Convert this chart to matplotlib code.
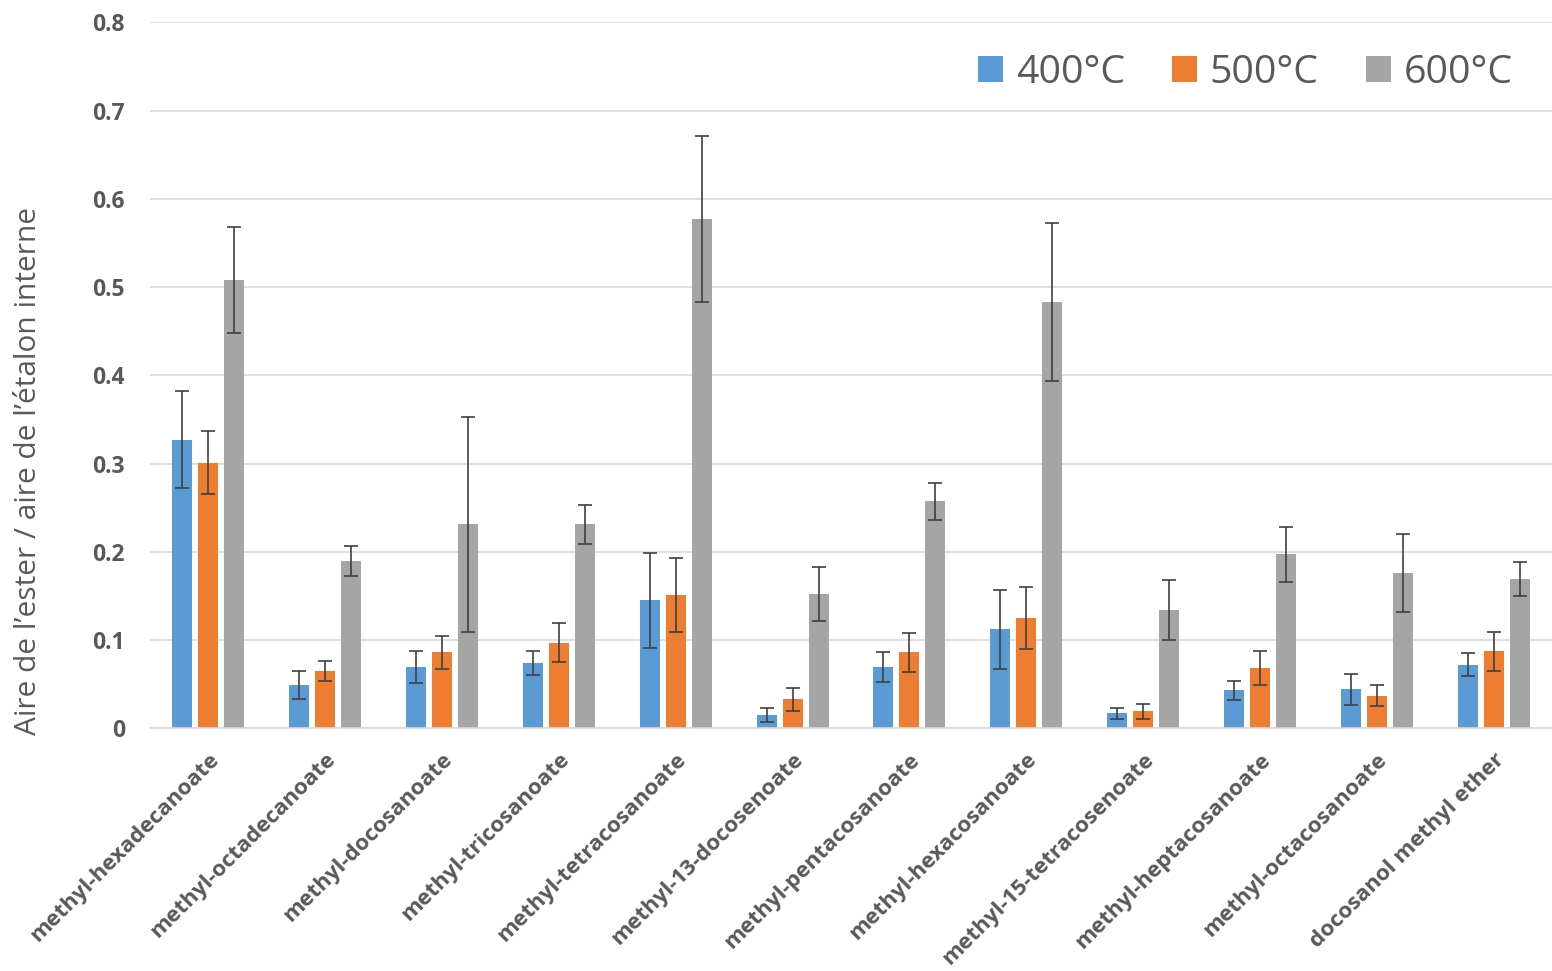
import matplotlib
matplotlib.use("Agg")
import matplotlib.pyplot as plt
import numpy as np

plt.rcParams['font.family'] = ['Open Sans', 'DejaVu Sans']

# données
composes = ["methyl-hexadecanoate", "methyl-octadecanoate", "methyl-docosanoate",
            "methyl-tricosanoate", "methyl-tetracosanoate", "methyl-13-docosenoate",
            "methyl-pentacosanoate", "methyl-hexacosanoate", "methyl-15-tetracosenoate",
            "methyl-heptacosanoate", "methyl-octacosanoate", "docosanol methyl ether"]
temperatures = ["400°C", "500°C", "600°C"]

val_400 = [0.327, 0.049, 0.069, 0.074, 0.145, 0.015, 0.069, 0.112, 0.017, 0.043, 0.044, 0.072]
err_400 = [0.055, 0.016, 0.018, 0.014, 0.054, 0.008, 0.017, 0.045, 0.006, 0.011, 0.018, 0.013]
val_500 = [0.301, 0.065, 0.086, 0.097, 0.151, 0.033, 0.086, 0.125, 0.019, 0.068, 0.037, 0.087]
err_500 = [0.036, 0.011, 0.019, 0.022, 0.042, 0.013, 0.022, 0.035, 0.008, 0.019, 0.012, 0.022]
val_600 = [0.508, 0.190, 0.231, 0.231, 0.577, 0.152, 0.257, 0.483, 0.134, 0.197, 0.176, 0.169]
err_600 = [0.060, 0.017, 0.122, 0.022, 0.094, 0.031, 0.021, 0.090, 0.034, 0.031, 0.044, 0.019]

couleurs = ['#5B9BD5', '#ED7D31', '#A5A5A5']
texte = '#595959'

fig = plt.figure(figsize=(15.52, 9.71), dpi=100)
ax = fig.add_axes([0.0966, 0.250, 0.9034, 0.727])

x = np.arange(len(composes))
largeur = 0.171
pas = 0.2225

series = [(val_400, err_400), (val_500, err_500), (val_600, err_600)]
for i, (vals, errs) in enumerate(series):
    ax.bar(x + (i - 1) * pas, vals, largeur, color=couleurs[i],
           label=temperatures[i], zorder=2,
           yerr=errs, error_kw=dict(ecolor='#404040', elinewidth=1.2,
                                    capsize=5, capthick=1.2, zorder=3))

ax.set_xlim(-0.5, len(composes) - 0.5)
ax.set_ylim(0, 0.8)
ax.set_yticks(np.arange(0, 0.81, 0.1))
ax.set_yticklabels(['0'] + [f"{v:.1f}" for v in np.arange(0.1, 0.81, 0.1)])
ax.grid(axis='y', color='#D9D9D9', linewidth=1.2, zorder=0)
ax.set_axisbelow(True)

for s in ['top', 'right', 'left']:
    ax.spines[s].set_visible(False)
ax.spines['bottom'].set_color('#D9D9D9')
ax.spines['bottom'].set_linewidth(1.2)
ax.tick_params(axis='both', length=0, colors=texte)
ax.tick_params(axis='y', pad=18)

for lab in ax.get_yticklabels():
    lab.set_fontsize(16.5)
    lab.set_fontweight('bold')

ax.set_xticks(x)
ax.set_xticklabels(composes, rotation=45, ha='right', rotation_mode='anchor',
                   fontsize=16.1, fontweight='bold', color=texte)
ax.tick_params(axis='x', pad=15)

ax.set_ylabel("Aire de l\u2019ester / aire de l\u2019\u00e9talon interne",
              fontsize=21.5, color=texte)
ax.yaxis.set_label_coords(-0.0765, 0.364)

ax.legend(loc='upper right', ncol=3, frameon=False, fontsize=28.3,
          labelcolor=texte, handlelength=0.63, handleheight=0.63,
          handletextpad=0.33, columnspacing=1.2, borderaxespad=0,
          borderpad=0, bbox_to_anchor=(0.972, 0.955))

fig.savefig("out.png", dpi=100)
